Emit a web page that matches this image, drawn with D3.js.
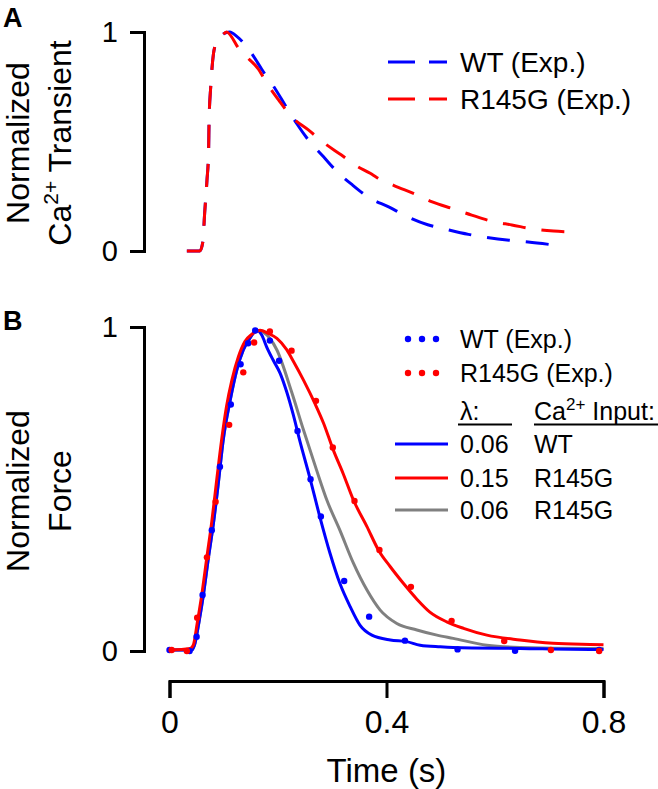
<!DOCTYPE html>
<html><head><meta charset="utf-8">
<script src="https://cdn.jsdelivr.net/npm/d3@7"></script>
<style>
html,body{margin:0;padding:0;background:#fff;}
svg{display:block;font-family:"Liberation Sans",Arial,Helvetica,sans-serif;}
</style></head>
<body><svg id="c" width="658" height="789"></svg>
<script>
// ---- Panel A: normalized Ca2+ transients (experimental)
const wtCaT = [0.032,0.056,0.062,0.064,0.069,0.072,0.073,0.076,0.081,0.087,0.096,0.111,0.124,0.152,0.170,0.195,0.213,0.235,0.256,0.284,0.307,0.338,0.367,0.405,0.435,0.476,0.510,0.551,0.585,0.626,0.661,0.703];
const wtCaV = [0,0,0.05,0.14,0.32,0.45,0.60,0.75,0.90,0.956,0.986,1.0,0.98,0.90,0.83,0.74,0.667,0.58,0.507,0.43,0.367,0.30,0.245,0.20,0.161,0.12,0.099,0.076,0.062,0.049,0.041,0.029];
const rCaT = [0.032,0.056,0.062,0.064,0.069,0.072,0.073,0.076,0.081,0.087,0.096,0.105,0.129,0.145,0.164,0.176,0.201,0.225,0.256,0.284,0.317,0.345,0.370,0.382,0.413,0.453,0.483,0.526,0.557,0.597,0.631,0.674,0.708,0.732];
const rCaV = [0,0,0.05,0.14,0.32,0.45,0.60,0.75,0.90,0.956,0.98,1.0,0.92,0.88,0.83,0.78,0.69,0.613,0.553,0.495,0.438,0.388,0.355,0.336,0.30,0.259,0.225,0.19,0.164,0.134,0.119,0.099,0.091,0.088];

// ---- Panel B: normalized force, model lines
const wtFT = [0,0.041,0.047,0.055,0.062,0.072,0.081,0.090,0.099,0.112,0.124,0.136,0.148,0.161,0.170,0.179,0.191,0.204,0.216,0.228,0.240,0.259,0.277,0.296,0.314,0.333,0.351,0.373,0.407,0.437,0.462,0.499,0.523,0.646,0.775,0.8];
const wtFV = [0.003,0.003,0.024,0.096,0.168,0.291,0.394,0.518,0.651,0.775,0.867,0.929,0.965,0.99,0.975,0.939,0.898,0.857,0.80,0.73,0.65,0.533,0.415,0.301,0.209,0.137,0.08,0.049,0.034,0.029,0.018,0.013,0.011,0.008,0.005,0.005];
const rFT = [0,0.038,0.044,0.051,0.059,0.069,0.078,0.087,0.096,0.105,0.115,0.127,0.139,0.152,0.167,0.182,0.198,0.216,0.228,0.247,0.268,0.284,0.302,0.320,0.339,0.364,0.385,0.407,0.431,0.456,0.480,0.511,0.542,0.585,0.646,0.707,0.775,0.8];
const rFV = [0.003,0.008,0.019,0.085,0.168,0.291,0.40,0.528,0.651,0.754,0.836,0.908,0.955,0.978,0.99,0.98,0.965,0.93,0.895,0.836,0.764,0.703,0.62,0.548,0.466,0.384,0.312,0.26,0.209,0.16,0.12,0.09,0.07,0.049,0.034,0.024,0.02,0.019];
const gFT = [0,0.041,0.047,0.055,0.062,0.072,0.081,0.090,0.099,0.112,0.124,0.136,0.148,0.161,0.172,0.198,0.225,0.247,0.271,0.290,0.314,0.339,0.364,0.388,0.419,0.456,0.493,0.523,0.585,0.646,0.775,0.8];
const gFV = [0.003,0.003,0.024,0.096,0.168,0.291,0.394,0.518,0.651,0.775,0.867,0.929,0.965,0.99,0.985,0.929,0.80,0.682,0.559,0.466,0.373,0.271,0.188,0.127,0.085,0.065,0.049,0.039,0.018,0.011,0.008,0.008];

// ---- Panel B: experimental points
const wtDotT = [0,0.037,0.050,0.061,0.078,0.093,0.113,0.131,0.145,0.158,0.185,0.202,0.236,0.260,0.279,0.322,0.368,0.434,0.531,0.637,0.792];
const wtDotV = [0.003,0,0.044,0.173,0.373,0.569,0.761,0.885,0.95,0.989,0.958,0.896,0.679,0.53,0.415,0.216,0.106,0.032,0.005,0.001,0.003];
const rDotT = [0.004,0.032,0.051,0.069,0.085,0.110,0.136,0.156,0.185,0.225,0.270,0.301,0.341,0.387,0.445,0.520,0.617,0.703,0.792];
const rDotV = [0.003,0,0.103,0.289,0.461,0.698,0.86,0.952,0.986,0.927,0.772,0.628,0.463,0.312,0.198,0.093,0.031,0.003,0];

const xTicks = [0,0.4,0.8];
const yTicks = [0,1];
const lambdaVals = ["0.06","0.15","0.06"];
const caInputs = ["WT","R145G","R145G"];
const modelColors = ["#0000ff","#ff0000","#808080"];

const BLUE="#0000ff", RED="#ff0000";
const svg = d3.select("#c");
const x = d3.scaleLinear().domain([0,0.8]).range([169.5,603.5]);
const yA = d3.scaleLinear().domain([0,1]).range([251,32]);
const yB = d3.scaleLinear().domain([0,1]).range([651,327]);
const zip = (t,v)=>t.map((d,i)=>[d,v[i]]);

function yAxis(scale){
  const g = svg.append("g").attr("transform","translate(144,0)")
    .call(d3.axisLeft(scale).tickValues(yTicks).tickSize(14).tickSizeOuter(14).tickPadding(12).tickFormat(d3.format("d")));
  g.selectAll("path,line").attr("stroke","#000").attr("stroke-width",3);
  g.selectAll("text").attr("font-size",29).attr("fill","#000").attr("font-family",null);
  return g;
}
yAxis(yA); yAxis(yB);

const gx = svg.append("g").attr("transform","translate(0,681)")
  .call(d3.axisBottom(x).tickValues(xTicks).tickSize(17).tickSizeOuter(17).tickPadding(12)
    .tickFormat(d=>d===0?"0":d3.format(".1f")(d)));
gx.selectAll("path,line").attr("stroke","#000").attr("stroke-width",3);
gx.selectAll("text").attr("font-size",32).attr("fill","#000").attr("font-family",null);

// Panel A lines
const lineA = d3.line().x(d=>x(d[0])).y(d=>yA(d[1])).curve(d3.curveMonotoneX);
svg.append("path").attr("d",lineA(zip(wtCaT,wtCaV))).attr("fill","none").attr("stroke",BLUE).attr("stroke-width",3).attr("stroke-dasharray","23,16");
svg.append("path").attr("d",lineA(zip(rCaT,rCaV))).attr("fill","none").attr("stroke",RED).attr("stroke-width",3).attr("stroke-dasharray","23,16");

// Panel B lines
const lineB = d3.line().x(d=>x(d[0])).y(d=>yB(d[1])).curve(d3.curveMonotoneX);
svg.append("path").attr("d",lineB(zip(gFT,gFV))).attr("fill","none").attr("stroke",modelColors[2]).attr("stroke-width",3);
svg.append("path").attr("d",lineB(zip(wtFT,wtFV))).attr("fill","none").attr("stroke",modelColors[0]).attr("stroke-width",3);
svg.append("path").attr("d",lineB(zip(rFT,rFV))).attr("fill","none").attr("stroke",modelColors[1]).attr("stroke-width",3);
svg.append("g").selectAll("circle").data(zip(wtDotT,wtDotV)).join("circle")
  .attr("cx",d=>x(d[0])).attr("cy",d=>yB(d[1])).attr("r",3.2).attr("fill",BLUE);
svg.append("g").selectAll("circle").data(zip(rDotT,rDotV)).join("circle")
  .attr("cx",d=>x(d[0])).attr("cy",d=>yB(d[1])).attr("r",3.2).attr("fill",RED);

// Panel letters
svg.append("text").attr("x",3).attr("y",27).attr("font-size",27).attr("font-weight","bold").text("A");
svg.append("text").attr("x",3).attr("y",330).attr("font-size",27).attr("font-weight","bold").text("B");

// Y titles
function ytitle(cx, cy, parts){
  const t = svg.append("text").attr("transform",`translate(${cx},${cy}) rotate(-90)`)
    .attr("text-anchor","middle").attr("font-size",32);
  parts.forEach(p=>{
    const s = t.append("tspan").text(p.t);
    if(p.sup){ s.attr("font-size",21).attr("dy",-13); }
    if(p.after){ s.attr("dy",13); }
  });
}
ytitle(29,143,[{t:"Normalized"}]);
ytitle(71,143,[{t:"Ca"},{t:"2+",sup:true},{t:" Transient",after:true}]);
ytitle(29,491,[{t:"Normalized"}]);
ytitle(71,491,[{t:"Force"}]);

svg.append("text").attr("x",386.5).attr("y",782).attr("text-anchor","middle").attr("font-size",33).text("Time (s)");

// Legend A
const legA = [["WT (Exp.)",BLUE,62],["R145G (Exp.)",RED,99]];
legA.forEach(([lab,col,yy])=>{
  svg.append("line").attr("x1",388).attr("x2",447).attr("y1",yy).attr("y2",yy)
    .attr("stroke",col).attr("stroke-width",3).attr("stroke-dasharray","27,14");
  svg.append("text").attr("x",460).attr("y",yy+10).attr("font-size",28).text(lab);
});

// Legend B
const legB = [["WT (Exp.)",BLUE,339],["R145G (Exp.)",RED,373]];
legB.forEach(([lab,col,yy])=>{
  svg.append("g").selectAll("circle").data([408,422,436]).join("circle")
    .attr("cx",d=>d).attr("cy",yy).attr("r",3.2).attr("fill",col);
  svg.append("text").attr("x",460).attr("y",yy+9).attr("font-size",25).text(lab);
});
svg.append("text").attr("x",460).attr("y",420).attr("font-size",25).text("λ:");
svg.append("line").attr("x1",458).attr("x2",512).attr("y1",424.5).attr("y2",424.5).attr("stroke","#000").attr("stroke-width",2);
const ci = svg.append("text").attr("x",534).attr("y",420).attr("font-size",25);
ci.append("tspan").text("Ca");
ci.append("tspan").attr("font-size",17).attr("dy",-10).text("2+");
ci.append("tspan").attr("dy",10).text(" Input:");
svg.append("line").attr("x1",534).attr("x2",658).attr("y1",424.5).attr("y2",424.5).attr("stroke","#000").attr("stroke-width",2);
const rowsY = [444,478,510];
rowsY.forEach((yy,i)=>{
  svg.append("line").attr("x1",395).attr("x2",448).attr("y1",yy).attr("y2",yy).attr("stroke",modelColors[i]).attr("stroke-width",3);
  svg.append("text").attr("x",460).attr("y",yy+9).attr("font-size",25).text(lambdaVals[i]);
  svg.append("text").attr("x",534).attr("y",yy+9).attr("font-size",25).text(caInputs[i]);
});
</script></body></html>
